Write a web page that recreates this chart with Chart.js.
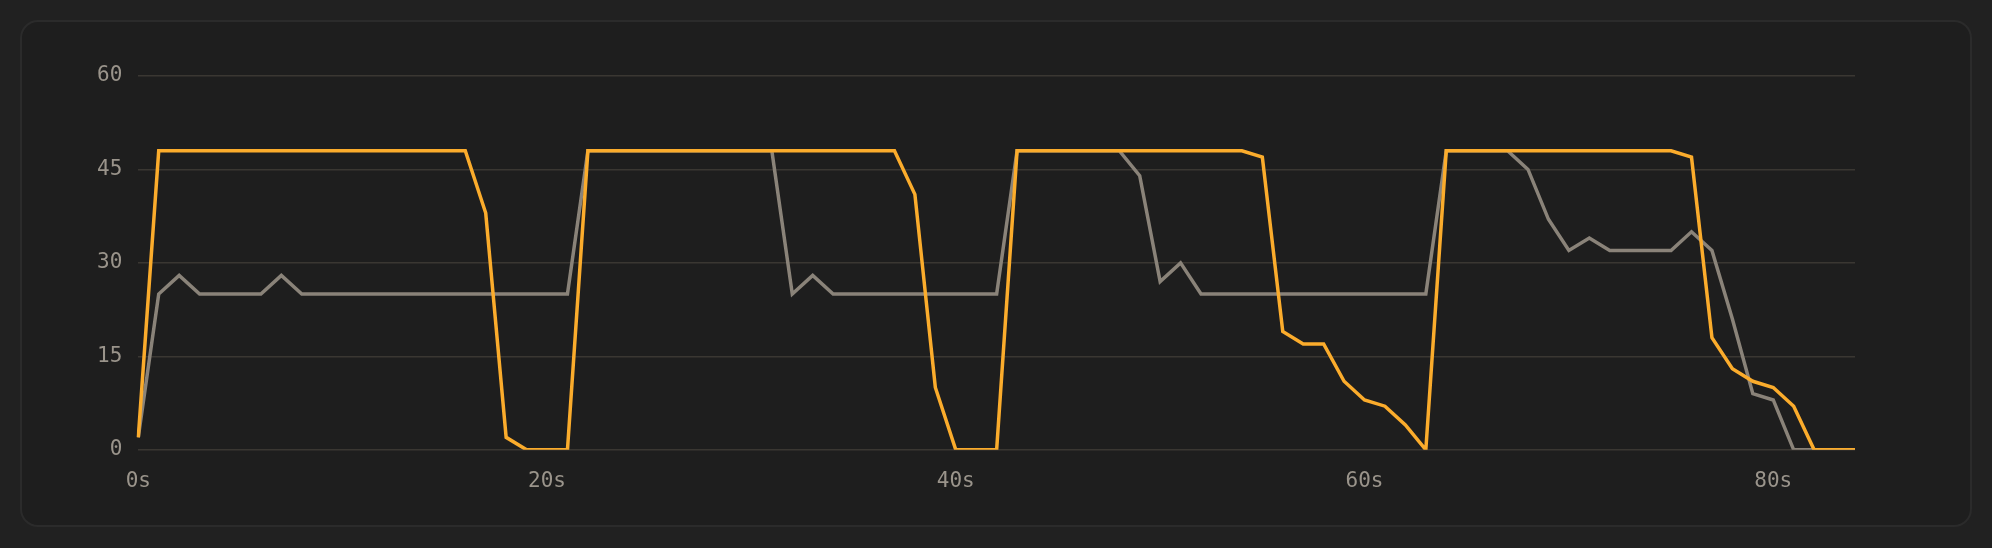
<!DOCTYPE html>
<html>
<head>
<meta charset="utf-8">
<script src="https://cdn.jsdelivr.net/npm/chart.js@4.4.1/dist/chart.umd.min.js"></script>
<style>
    html, body {
        margin: 0;
        padding: 0;
        background: #212121;
        width: 1992px;
        height: 548px;
        overflow: hidden;
    }
    .card {
        position: absolute;
        left: 20px;
        top: 20px;
        width: 1948px;
        height: 503px;
        border: 2px solid #2b2b2b;
        border-radius: 18px;
        background: #1e1e1e;
    }
    #chart {
        position: absolute;
        left: 0;
        top: 0;
    }
</style>
</head>
<body>
<div class="card"></div>
<canvas id="chart" width="1992" height="548"></canvas>
<script>
// seconds
const seconds = [
    0, 1, 2, 3, 4, 5, 6, 7, 8, 9, 10, 11, 12, 13, 14, 15, 16, 17, 18, 19,
    20, 21, 22, 23, 24, 25, 26, 27, 28, 29, 30, 31, 32, 33, 34, 35, 36, 37, 38, 39,
    40, 41, 42, 43, 44, 45, 46, 47, 48, 49, 50, 51, 52, 53, 54, 55, 56, 57, 58, 59,
    60, 61, 62, 63, 64, 65, 66, 67, 68, 69, 70, 71, 72, 73, 74, 75, 76, 77, 78, 79,
    80, 81, 82, 83, 84
];

const orangeValues = [
    2, 48, 48, 48, 48, 48, 48, 48, 48, 48, 48, 48, 48, 48, 48, 48, 48, 38, 2, 0,
    0, 0, 48, 48, 48, 48, 48, 48, 48, 48, 48, 48, 48, 48, 48, 48, 48, 48, 41, 10,
    0, 0, 0, 48, 48, 48, 48, 48, 48, 48, 48, 48, 48, 48, 48, 47, 19, 17, 17, 11,
    8, 7, 4, 0, 48, 48, 48, 48, 48, 48, 48, 48, 48, 48, 48, 48, 47, 18, 13, 11,
    10, 7, 0, 0, 0
];

const greyValues = [
    2, 25, 28, 25, 25, 25, 25, 28, 25, 25, 25, 25, 25, 25, 25, 25, 25, 25, 25, 25,
    25, 25, 48, 48, 48, 48, 48, 48, 48, 48, 48, 48, 25, 28, 25, 25, 25, 25, 25, 25,
    25, 25, 25, 48, 48, 48, 48, 48, 48, 44, 27, 30, 25, 25, 25, 25, 25, 25, 25, 25,
    25, 25, 25, 25, 48, 48, 48, 48, 45, 37, 32, 34, 32, 32, 32, 32, 35, 32, 21, 9,
    8, 0, 0, 0, 0
];

const xTickValues = [0, 20, 40, 60, 80];
const yTickValues = [0, 15, 30, 45, 60];

const tickFont = { family: "'DejaVu Sans Mono', monospace", size: 21 };
const tickColor = "#9a948b";

new Chart(document.getElementById("chart"), {
    type: "line",
    data: {
        labels: seconds,
        datasets: [{
            data: orangeValues,
            borderColor: "#fbac2c",
            borderWidth: 3.5,
            pointRadius: 0,
            tension: 0,
            fill: false
        }, {
            data: greyValues,
            borderColor: "#8a8379",
            borderWidth: 3.5,
            pointRadius: 0,
            tension: 0,
            fill: false
        }]
    },
    options: {
        responsive: false,
        animation: false,
        layout: {
            padding: { left: 81, right: 137, top: 76, bottom: 35 }
        },
        plugins: {
            legend: { display: false },
            tooltip: { enabled: false }
        },
        scales: {
            x: {
                grid: { display: false, drawTicks: false },
                border: { display: false },
                ticks: {
                    autoSkip: false,
                    maxRotation: 0,
                    padding: 19,
                    color: tickColor,
                    font: tickFont,
                    callback: function (value) {
                        const sec = this.getLabelForValue(value);
                        return xTickValues.includes(sec) ? sec + "s" : null;
                    }
                }
            },
            y: {
                min: yTickValues[0],
                max: yTickValues[yTickValues.length - 1],
                grid: { color: "#3a3732", lineWidth: 1.5, drawTicks: false },
                border: { display: false },
                afterBuildTicks: (axis) => {
                    axis.ticks = yTickValues.map(v => ({ value: v }));
                },
                ticks: {
                    padding: 16,
                    color: tickColor,
                    font: tickFont
                }
            }
        }
    }
});
</script>
</body>
</html>
